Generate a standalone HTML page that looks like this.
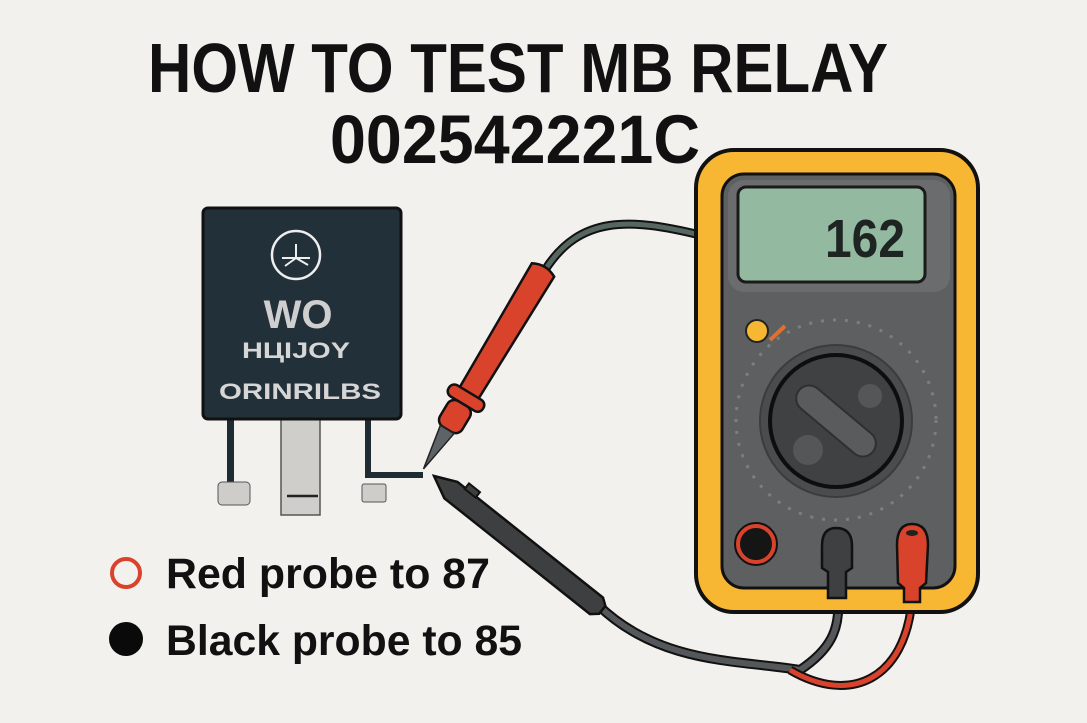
<!DOCTYPE html>
<html><head><meta charset="utf-8"><style>
html,body{margin:0;padding:0;background:#f3f1ee;}
svg{display:block;}
</style></head><body>
<svg width="1087" height="723" viewBox="0 0 1087 723" xmlns="http://www.w3.org/2000/svg">
<rect width="1087" height="723" fill="#f3f1ee"/>
<!-- title -->
<text x="518" y="92" text-anchor="middle" font-family="Liberation Sans, sans-serif" font-weight="bold" font-size="70" textLength="740" lengthAdjust="spacingAndGlyphs" fill="#111">HOW TO TEST MB RELAY</text>
<text x="515" y="163" text-anchor="middle" font-family="Liberation Sans, sans-serif" font-weight="bold" font-size="69" textLength="370" lengthAdjust="spacingAndGlyphs" fill="#111">002542221C</text>

<!-- relay pins -->
<rect x="227" y="416" width="7" height="70" fill="#1f2b33"/>
<rect x="218" y="482" width="32" height="23" rx="4" fill="#cfcdca" stroke="#555" stroke-width="1"/>
<rect x="281" y="416" width="39" height="99" fill="#cfcecb" stroke="#555" stroke-width="1.5"/>
<line x1="287" y1="496" x2="318" y2="496" stroke="#222" stroke-width="2.5"/>
<path d="M368 416 L368 475 L423 475" fill="none" stroke="#1f2b33" stroke-width="6"/>
<rect x="362" y="484" width="24" height="18" rx="2" fill="#cfcdca" stroke="#555" stroke-width="1"/>
<!-- relay body -->
<rect x="203" y="208" width="198" height="211" rx="5" fill="#22303a" stroke="#111" stroke-width="3"/>
<circle cx="296" cy="255" r="24" fill="none" stroke="#eee" stroke-width="2.5"/>
<path d="M282 258 L310 258 M296 244 L296 258 L285 266 M296 258 L308 265" stroke="#eee" stroke-width="2" fill="none"/>
<text x="298" y="328" text-anchor="middle" font-family="Liberation Sans, sans-serif" font-weight="bold" font-size="40" fill="#cfcfcf">WO</text>
<text x="296" y="358" text-anchor="middle" font-family="Liberation Sans, sans-serif" font-weight="bold" font-size="22" fill="#d6d6d6" textLength="108" lengthAdjust="spacingAndGlyphs">HЦIJOY</text>
<text x="300" y="399" text-anchor="middle" font-family="Liberation Sans, sans-serif" font-weight="bold" font-size="22" fill="#d6d6d6" textLength="162" lengthAdjust="spacingAndGlyphs">ORINRILBS</text>

<!-- red probe wire -->
<path d="M545 270 C580 215 630 218 700 235" fill="none" stroke="#111" stroke-width="9"/>
<path d="M545 270 C580 215 630 218 700 235" fill="none" stroke="#566660" stroke-width="5"/>

<!-- black probe wires -->
<path d="M598 605 C660 665 740 660 800 670 C830 650 840 630 838 600" fill="none" stroke="#111" stroke-width="10"/>
<path d="M598 605 C660 665 740 660 800 670 C830 650 840 630 838 600" fill="none" stroke="#55585b" stroke-width="6"/>
<path d="M790 670 C850 705 905 680 912 600" fill="none" stroke="#111" stroke-width="9"/>
<path d="M790 670 C850 705 905 680 912 600" fill="none" stroke="#d9432c" stroke-width="5"/>

<!-- black probe -->
<g transform="translate(434,476) rotate(38.5)">
<path d="M0 0 L22 -10 L208 -10 L215 -5 L215 5 L208 11 L22 11 Z" fill="#3d3f41" stroke="#111" stroke-width="2.5"/>
<rect x="32" y="-16" width="14" height="7" fill="#3d3f41" stroke="#111" stroke-width="2"/>
</g>

<!-- red probe -->
<g transform="translate(543,270) rotate(121)">
<path d="M0 -13 L145 -11 L145 11 L0 13 Q-7 0 0 -13 Z" fill="#d9432c" stroke="#111" stroke-width="2.5"/>
<rect x="143" y="-20" width="13" height="40" rx="6" fill="#d9432c" stroke="#111" stroke-width="2.5"/>
<rect x="156" y="-13" width="30" height="26" rx="8" fill="#d9432c" stroke="#111" stroke-width="2.5"/>
<path d="M186 -8 L232 0 L186 8 Z" fill="#5d6366" stroke="#222" stroke-width="1.5"/>
</g>

<!-- multimeter -->
<rect x="696" y="150" width="282" height="462" rx="38" fill="#f7b733" stroke="#111" stroke-width="4"/>
<rect x="722" y="174" width="233" height="414" rx="22" fill="#5d5f61" stroke="#111" stroke-width="3"/>
<rect x="728" y="180" width="222" height="112" rx="16" fill="#6a6c6e"/>
<rect x="738" y="187" width="187" height="95" rx="8" fill="#93b9a1" stroke="#1a1a1a" stroke-width="3"/>
<text x="905" y="257" text-anchor="end" font-family="Liberation Sans, sans-serif" font-weight="bold" font-size="54" fill="#1e2422" textLength="80" lengthAdjust="spacingAndGlyphs">162</text>
<circle cx="757" cy="331" r="11" fill="#f7b733" stroke="#222" stroke-width="2"/>
<path d="M770 340 L785 326" stroke="#e07030" stroke-width="4"/>
<circle cx="836" cy="420" r="100" fill="none" stroke="#8a8c8e" stroke-width="3" stroke-dasharray="3 9" opacity="0.7"/>
<circle cx="836" cy="421" r="76" fill="#4a4c4e" stroke="#3a3c3e" stroke-width="2"/>
<circle cx="836" cy="421" r="66" fill="#3f4143" stroke="#0e0e0e" stroke-width="4"/>
<g transform="translate(836,421) rotate(40)">
<rect x="-48" y="-13" width="96" height="26" rx="13" fill="#595b5d" stroke="#2e2f30" stroke-width="2"/>
</g>
<circle cx="870" cy="396" r="12" fill="#545658"/>
<circle cx="808" cy="450" r="15" fill="#545658"/>
<!-- jacks -->
<circle cx="756" cy="544" r="21" fill="#151515" stroke="#111" stroke-width="2"/>
<circle cx="756" cy="544" r="18" fill="none" stroke="#d9432c" stroke-width="4"/>
<path d="M822 546 Q822 528 836 528 Q852 528 852 546 L852 568 L846 572 L846 598 L828 598 L828 572 L822 568 Z" fill="#3e4042" stroke="#111" stroke-width="2.5"/>
<path d="M897 545 Q897 524 912 524 Q928 524 928 545 L926 583 L920 588 L920 602 L904 602 L904 588 L898 583 Z" fill="#d9432c" stroke="#111" stroke-width="2.5"/>
<ellipse cx="912" cy="533" rx="6" ry="3" fill="#222"/>

<!-- legend -->
<circle cx="126" cy="573" r="14" fill="none" stroke="#d9432c" stroke-width="4"/>
<text x="166" y="588" font-family="Liberation Sans, sans-serif" font-weight="bold" font-size="43" fill="#111" textLength="324" lengthAdjust="spacingAndGlyphs">Red probe to 87</text>
<circle cx="126" cy="639" r="17" fill="#0a0a0a"/>
<text x="166" y="655" font-family="Liberation Sans, sans-serif" font-weight="bold" font-size="43" fill="#111" textLength="356" lengthAdjust="spacingAndGlyphs">Black probe to 85</text>
</svg>
</body></html>
